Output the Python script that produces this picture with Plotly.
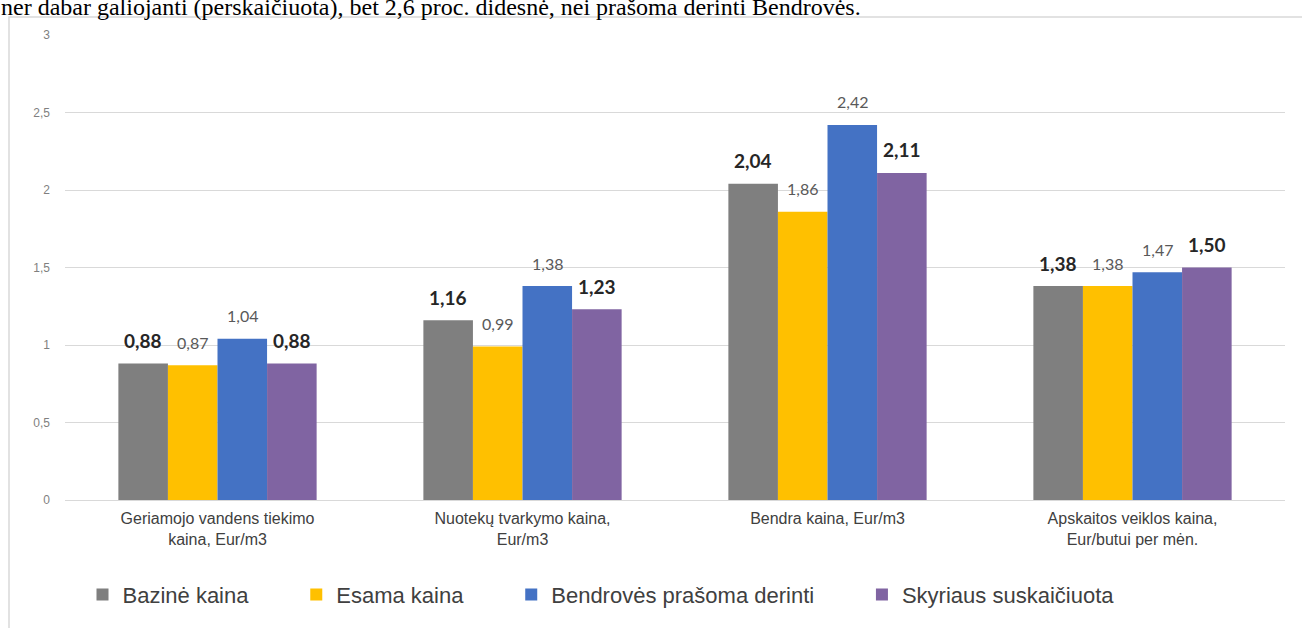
import plotly.graph_objects as go

categories = [
    "Geriamojo vandens tiekimo<br>kaina, Eur/m3",
    "Nuotekų tvarkymo kaina,<br>Eur/m3",
    "Bendra kaina, Eur/m3",
    "Apskaitos veiklos kaina,<br>Eur/butui per mėn.",
]
series_names = ["Bazinė kaina", "Esama kaina", "Bendrovės prašoma derinti", "Skyriaus suskaičiuota"]
bazine = [0.88, 1.16, 2.04, 1.38]
esama = [0.87, 0.99, 1.86, 1.38]
bendroves = [1.04, 1.38, 2.42, 1.47]
skyriaus = [0.88, 1.23, 2.11, 1.50]
y_ticks = [0, 0.5, 1, 1.5, 2, 2.5, 3]
y_tick_labels = ["0", "0,5", "1", "1,5", "2", "2,5", "3"]
top_text = "ner dabar galiojanti (perskaičiuota), bet 2,6 proc. didesnė, nei prašoma derinti Bendrovės."

series_values = [bazine, esama, bendroves, skyriaus]
colors = ["#7f7f7f", "#ffc000", "#4472c4", "#8064a2"]
bold_label = [True, False, False, True]

W, H = 1302, 628
ML, MR, MT, MB = 65, 17, 35, 126
BARGAP = 0.35
plot_w = W - ML - MR
plot_h = H - MT - MB
PAD = "\u00a0" * 7  # extra spacing between legend entries

fig = go.Figure()
for k, (name, vals, col) in enumerate(zip(series_names, series_values, colors)):
    label = name + (PAD if k < len(series_names) - 1 else "")
    fig.add_trace(go.Bar(name=label, x=categories, y=vals, marker=dict(color=col, line=dict(width=0))))

# data labels
cat_w = plot_w / len(categories)
bar_w = cat_w * (1 - BARGAP) / len(series_values)
for i, (vals, b) in enumerate(zip(series_values, bold_label)):
    shift = (i - (len(series_values) - 1) / 2) * bar_w
    for c, v in zip(categories, vals):
        txt = f"{v:.2f}".replace(".", ",")
        fig.add_annotation(
            x=c, y=v, xref="x", yref="y", text=f"<b>{txt}</b>" if b else txt,
            showarrow=False, xshift=shift, yshift=23, yanchor="middle",
            font=dict(family="Lato, Liberation Sans, Arial", size=19 if b else 16,
                      color="#262626" if b else "#595959"),
        )

# cut-off text line above the chart
fig.add_annotation(
    x=(-1 - ML) / plot_w, y=1 + (MT - 7) / plot_h, xref="paper", yref="paper",
    text=top_text, showarrow=False, xanchor="left", yanchor="middle",
    font=dict(family="Liberation Serif, Times New Roman", size=24, color="#000000"),
)

# chart frame
fig.add_shape(
    type="rect", xref="paper", yref="paper",
    x0=(9 - ML) / plot_w, x1=(W + 5 - ML) / plot_w,
    y0=-(MB + 10) / plot_h, y1=1 + (MT - 17) / plot_h,
    line=dict(color="#d9d9d9", width=1.5), fillcolor="rgba(0,0,0,0)", layer="above",
)

fig.update_layout(
    width=W, height=H,
    margin=dict(l=ML, r=MR, t=MT, b=MB),
    paper_bgcolor="white", plot_bgcolor="white",
    barmode="group", bargap=BARGAP, bargroupgap=0,
    separators=", ",
    showlegend=True,
    legend=dict(
        orientation="h", x=(601 - ML) / plot_w, xanchor="center",
        y=-(597 - (H - MB)) / plot_h, yanchor="middle",
        font=dict(family="Liberation Sans, Arial", size=22, color="#404040"),
        traceorder="normal", itemwidth=30,
    ),
    xaxis=dict(
        showgrid=False, showline=True, linecolor="#d9d9d9", linewidth=1,
        ticks="", tickfont=dict(family="Liberation Sans, Arial", size=16, color="#404040"),
        ticklabelstandoff=4,
    ),
    yaxis=dict(
        range=[0, 3], tickvals=y_ticks, ticktext=y_tick_labels,
        showgrid=True, gridcolor="#d9d9d9", gridwidth=1, zeroline=False,
        showline=False, ticks="",
        tickfont=dict(family="Liberation Sans, Arial", size=12, color="#7f7f7f"),
        ticklabelstandoff=14,
    ),
)

fig.write_html("out.html", config={"displayModeBar": False},
               post_script="document.body.style.margin='0';")
